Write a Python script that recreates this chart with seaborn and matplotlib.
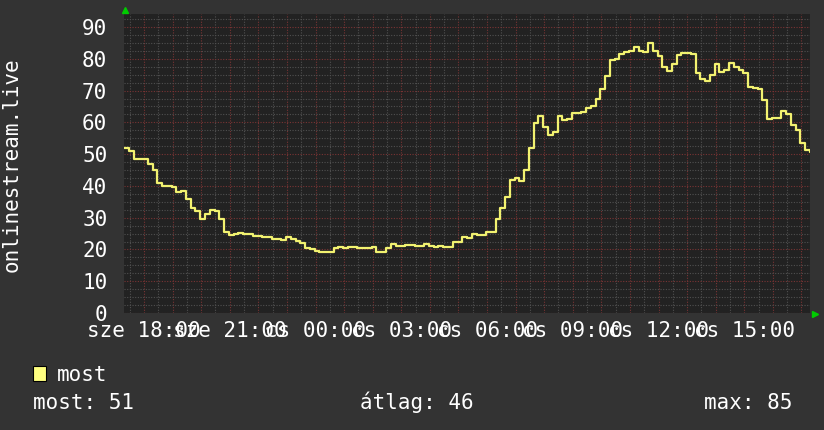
import numpy as np
import pandas as pd
import matplotlib
matplotlib.use("Agg")
import matplotlib.pyplot as plt
import matplotlib.dates as mdates
from matplotlib.ticker import MultipleLocator, FixedLocator
from matplotlib.patches import Rectangle
import seaborn as sns

# ---------------- data ----------------
start_time = "2024-01-10 17:18"   # szerda (sze) 17:18
step = "10min"
values = [
    52, 51, 48.5, 48.5, 48.5, 47, 45, 41, 40, 40,
    39.5, 38, 38.5, 36, 33, 32, 29.5, 31, 32.5, 32,
    29.5, 25.5, 24.5, 25, 25.3, 24.8, 25, 24.2, 24.2, 23.8,
    23.8, 23.3, 23.3, 23, 24, 23.2, 22.8, 22, 20.5, 20,
    19.5, 19.3, 19.3, 19.3, 20.3, 20.9, 20.5, 20.9, 20.9, 20.3,
    20.3, 20.6, 20.9, 19.3, 19.3, 20.3, 21.7, 21, 21, 21.4,
    21.3, 21, 21.2, 21.6, 21, 20.7, 21.2, 20.7, 20.8, 22.5,
    22.5, 24, 23.5, 25, 24.5, 24.5, 25.4, 25.5, 29.5, 33,
    36.5, 41.8, 42.4, 41.5, 45, 52, 59.7, 62, 58.6, 56,
    57, 62, 60.7, 61.2, 62.8, 63, 63.4, 64.4, 65.2, 67.5,
    70.5, 74.5, 79.6, 80, 81.4, 82, 82.6, 83.8, 82.5, 82,
    85, 82.5, 81, 77.5, 76.3, 78.3, 81.2, 81.9, 81.8, 81.5,
    75.5, 73.6, 73, 75, 78.5, 76, 76.5, 78.6, 77.5, 76.5,
    75.5, 71.2, 70.7, 70.4, 67, 61, 61.5, 61.5, 63.5, 62.6,
    59.2, 57.6, 53.4, 51.3, 50.8,
]
tick_times = ["2024-01-10 18:00", "2024-01-10 21:00", "2024-01-11 00:00",
              "2024-01-11 03:00", "2024-01-11 06:00", "2024-01-11 09:00",
              "2024-01-11 12:00", "2024-01-11 15:00"]
tick_labels = ["sze 18:00", "sze 21:00", "cs 00:00", "cs 03:00",
               "cs 06:00", "cs 09:00", "cs 12:00", "cs 15:00"]
y_ticks = [0, 10, 20, 30, 40, 50, 60, 70, 80, 90]
y_label = "onlinestream.live"
series_name = "most"
stat_texts = ["most: 51", "átlag: 46", "max: 85"]

times = pd.date_range(start_time, periods=len(values), freq=step)
df = pd.DataFrame({"time": times, "value": values})

# ---------------- style ----------------
BG = "#333333"
PLOT_BG = "#222222"
LINE = "#f2f270"
MAJOR = "#7a3434"
MINOR = "#505050"

sns.set_theme(style="dark")
plt.rcParams["font.family"] = ["DejaVu Sans Mono", "DejaVu Sans"]

W, H = 824, 430
fig = plt.figure(figsize=(W / 100, H / 100), dpi=100, facecolor=BG)
ax = fig.add_axes([124 / W, 117 / H, 686 / W, 299 / H])
ax.set_facecolor(PLOT_BG)

sns.lineplot(data=df, x="time", y="value", ax=ax, color=LINE,
             linewidth=1.6, drawstyle="steps-post", zorder=5)

ax.set_xlim(times[0], times[-1])
ax.set_ylim(0, 94.1)

# x grid: hourly (red) and half-hourly (grey)
hours = pd.date_range("2024-01-10 18:00", "2024-01-11 17:00", freq="h")
label_map = dict(zip(pd.to_datetime(tick_times), tick_labels))
ax.xaxis.set_major_locator(FixedLocator(mdates.date2num(hours)))
ax.set_xticklabels([label_map.get(h, "") for h in hours])
half_hours = pd.date_range("2024-01-10 17:30", "2024-01-11 17:00", freq="30min")
ax.xaxis.set_minor_locator(FixedLocator(mdates.date2num(half_hours)))

ax.yaxis.set_major_locator(FixedLocator(y_ticks))
ax.yaxis.set_minor_locator(MultipleLocator(2.5))

dots = (0, (1, 1.4))
ax.grid(which="major", color=MAJOR, linestyle=dots, linewidth=0.8, zorder=1)
ax.grid(which="minor", color=MINOR, linestyle=dots, linewidth=0.8, zorder=1)
ax.set_axisbelow(True)

ax.tick_params(axis="x", which="major", direction="in", length=3, color=MAJOR,
               labelcolor="white", labelsize=15, pad=6)
ax.tick_params(axis="y", which="major", direction="in", length=3, color=MAJOR,
               labelcolor="white", labelsize=15, pad=12)
ax.tick_params(which="minor", direction="in", length=2, color=MINOR)

for s in ax.spines.values():
    s.set_visible(False)

ax.set_xlabel("")
ax.set_ylabel("")
fig.text(12 / W, 1 - 165 / H, y_label, rotation=90, ha="center", va="center",
         color="white", fontsize=15)

# axis arrows
ax.plot([0.001], [1.013], marker="^", color="#00cc00", markersize=5,
        transform=ax.transAxes, clip_on=False)
ax.plot([1.007], [-0.003], marker=">", color="#00cc00", markersize=5,
        transform=ax.transAxes, clip_on=False)

# legend
fig.patches.append(Rectangle((33 / W, 1 - 381 / H), 13 / W, 15 / H,
                             transform=fig.transFigure, facecolor="#ffff80",
                             edgecolor="black", linewidth=0.8))
fig.text(57 / W, 1 - 381 / H, series_name, ha="left", va="baseline",
         color="white", fontsize=15)
fig.text(33 / W, 1 - 409 / H, stat_texts[0], ha="left", va="baseline",
         color="white", fontsize=15)
fig.text(360 / W, 1 - 409 / H, stat_texts[1], ha="left", va="baseline",
         color="white", fontsize=15)
fig.text(792 / W, 1 - 409 / H, stat_texts[2], ha="right", va="baseline",
         color="white", fontsize=15)

fig.savefig("out.png", dpi=100, facecolor=BG)
